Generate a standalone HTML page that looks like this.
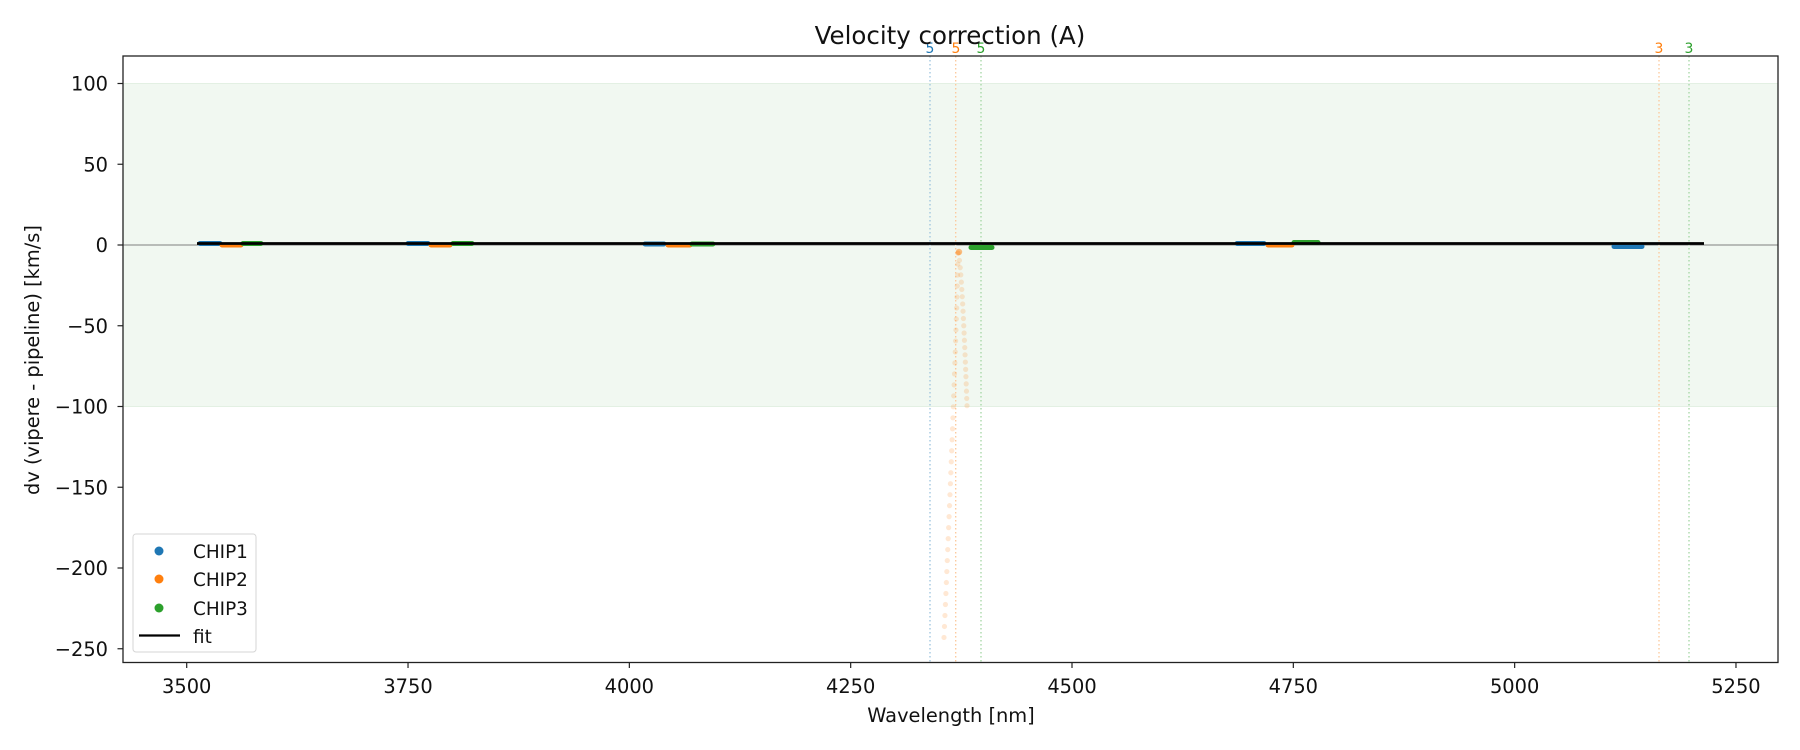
<!DOCTYPE html>
<html><head><meta charset="utf-8"><style>
body{margin:0;background:#fff}
svg{display:block;font-family:"DejaVu Sans","Liberation Sans",sans-serif}
</style></head><body>
<svg id="s" width="1800" height="750" viewBox="0 0 1800 750" xmlns="http://www.w3.org/2000/svg">
<rect width="1800" height="750" fill="#fff"/>
<rect x="123" y="83.5" width="1655" height="323" fill="#f1f8f1"/>
<line x1="123" y1="83.5" x2="1778" y2="83.5" stroke="#e3f0e3" stroke-width="1"/>
<line x1="123" y1="406.5" x2="1778" y2="406.5" stroke="#e3f0e3" stroke-width="1"/>
<line x1="123" y1="245" x2="1778" y2="245" stroke="#808080" stroke-width="1"/>
<g stroke-width="1.3" stroke-dasharray="1.5,2.5">
<line x1="930" y1="56" x2="930" y2="662" stroke="#9cc3de"/>
<line x1="955.7" y1="56" x2="955.7" y2="662" stroke="#fcc89a"/>
<line x1="981" y1="56" x2="981" y2="662" stroke="#a3d6a3"/>
<line x1="1659" y1="56" x2="1659" y2="662" stroke="#fcc89a"/>
<line x1="1689" y1="56" x2="1689" y2="662" stroke="#a3d6a3"/>
</g>
<g font-size="14" text-anchor="middle">
<text x="930" y="53" fill="#1f77b4">5</text>
<text x="956" y="53" fill="#ff7f0e">5</text>
<text x="981" y="53" fill="#2ca02c">5</text>
<text x="1659" y="53" fill="#ff7f0e">3</text>
<text x="1689" y="53" fill="#2ca02c">3</text>
</g>
<g id="orange" fill="#ff7f0e" fill-opacity="0.18"></g>
<g stroke-width="5" stroke-linecap="round">
<line x1="200" y1="243.5" x2="220" y2="243.5" stroke="#1f77b4"/>
<line x1="222" y1="245" x2="241" y2="245" stroke="#ff7f0e"/>
<line x1="243" y1="243.5" x2="261" y2="243.5" stroke="#2ca02c"/>
<line x1="408" y1="243.5" x2="428" y2="243.5" stroke="#1f77b4"/>
<line x1="431" y1="245" x2="450" y2="245" stroke="#ff7f0e"/>
<line x1="453" y1="243.5" x2="472" y2="243.5" stroke="#2ca02c"/>
<line x1="645" y1="244" x2="664" y2="244" stroke="#1f77b4"/>
<line x1="668" y1="245" x2="690" y2="245" stroke="#ff7f0e"/>
<line x1="692" y1="244" x2="713" y2="244" stroke="#2ca02c"/>
<line x1="1237" y1="243.5" x2="1264" y2="243.5" stroke="#1f77b4"/>
<line x1="1268" y1="245" x2="1292" y2="245" stroke="#ff7f0e"/>
<line x1="1294" y1="242.5" x2="1318" y2="242.5" stroke="#2ca02c"/>
<line x1="971" y1="247.5" x2="992" y2="247.5" stroke="#2ca02c"/>
<line x1="1614" y1="246.5" x2="1642" y2="246.5" stroke="#1f77b4"/>
</g>
<line x1="197" y1="243.5" x2="1704" y2="243.5" stroke="#000" stroke-width="2.8"/>
<rect x="123" y="56" width="1655" height="606.5" fill="none" stroke="#222" stroke-width="1.3"/>
<g id="ticks" stroke="#222" stroke-width="1.2"></g>
<g id="labels" font-size="19.4" fill="#111"></g>
<text x="950" y="44" font-size="24.5" text-anchor="middle" fill="#111">Velocity correction (A)</text>
<text x="951" y="722" font-size="19.4" text-anchor="middle" fill="#111">Wavelength [nm]</text>
<text transform="translate(39,360) rotate(-90)" font-size="19.4" text-anchor="middle" fill="#111">dv (vipere - pipeline) [km/s]</text>
<rect x="133" y="534" width="123" height="118" rx="3" fill="#fff" fill-opacity="0.85" stroke="#d6d6d6"/>
<circle cx="159" cy="551" r="4.5" fill="#1f77b4"/>
<circle cx="159" cy="579" r="4.5" fill="#ff7f0e"/>
<circle cx="159" cy="608" r="4.5" fill="#2ca02c"/>
<line x1="139" y1="635.5" x2="180" y2="635.5" stroke="#000" stroke-width="2.2"/>
<g font-size="18.4" fill="#111">
<text x="193" y="558">CHIP1</text><text x="193" y="586">CHIP2</text>
<text x="193" y="615">CHIP3</text><text x="193" y="643">fit</text>
</g>
</svg>
<script>
var NS="http://www.w3.org/2000/svg";
function el(p,t,a,txt){var e=document.createElementNS(NS,t);for(var k in a)e.setAttribute(k,a[k]);if(txt!==undefined)e.textContent=txt;document.getElementById(p).appendChild(e);}
function X(w){return 186.7+0.8853*(w-3500);}
function Y(v){return 245-1.615*v;}
for(var w=3500;w<=5250;w+=250){var x=X(w);el("ticks","line",{x1:x,y1:662.5,x2:x,y2:668});el("labels","text",{x:x,y:693,"text-anchor":"middle"},String(w));}
for(var v=100;v>=-250;v-=50){var y=Y(v);el("ticks","line",{x1:117.5,y1:y,x2:123,y2:y});el("labels","text",{x:108,y:y+7,"text-anchor":"end"},(v<0?"\u2212":"")+Math.abs(v));}
for(var i=0;i<36;i++){var v=-5-i*6.8;var x=958-Math.pow(i/35,1.2)*14;el("orange","circle",{cx:x,cy:Y(v),r:2.6});}
for(var i=0;i<22;i++){var v=-5-i*4.5;var x=958+Math.pow(i/21,0.6)*9;el("orange","circle",{cx:x,cy:Y(v),r:2.6});}
el("orange","circle",{cx:959,cy:252,r:3.2,"fill-opacity":"0.5"});
</script>
</body></html>
